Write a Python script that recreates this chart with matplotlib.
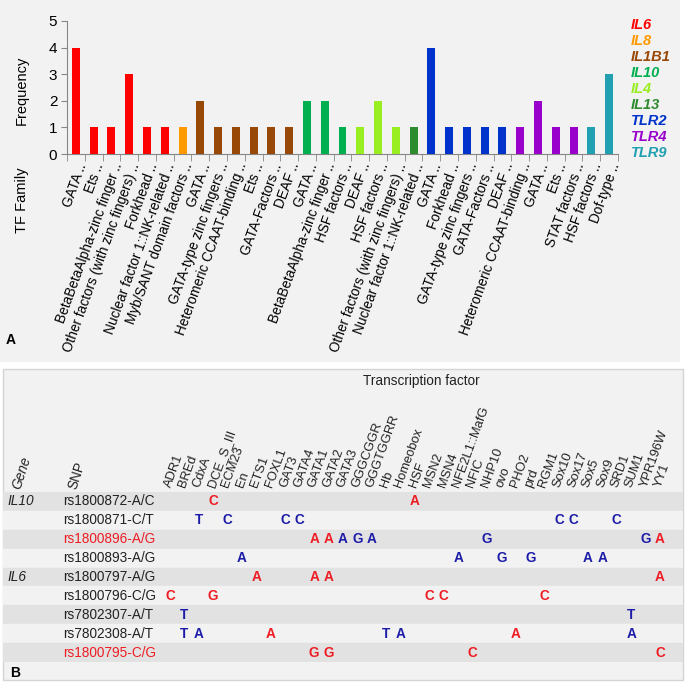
import matplotlib
matplotlib.use("Agg")
import matplotlib.pyplot as plt
from matplotlib.patches import Rectangle
import numpy as np

# ---------------- data: panel A ----------------
tf_families = ["GATA", "Ets", "BetaBetaAlpha-zinc finger", "Other factors (with zinc fingers)",
               "Forkhead", "Nuclear factor 1::NK-related", "Myb/SANT domain factors",
               "GATA", "GATA-type zinc fingers", "Heteromeric CCAAT-binding", "Ets",
               "GATA-Factors", "DEAF", "GATA", "BetaBetaAlpha-zinc finger", "HSF factors",
               "DEAF", "HSF factors", "Other factors (with zinc fingers)",
               "Nuclear factor 1::NK-related", "GATA", "Forkhead", "GATA-type zinc fingers",
               "GATA-Factors", "DEAF", "Heteromeric CCAAT-binding", "GATA", "Ets",
               "STAT factors", "HSF factors", "Dof-type"]
frequency = [4, 1, 1, 3, 1, 1, 1, 2, 1, 1, 1, 1, 1, 2, 2, 1, 1, 2, 1, 1, 4, 1, 1, 1, 1, 1, 2, 1, 1, 1, 3]
bar_gene = (["IL6"] * 6 + ["IL8"] + ["IL1B1"] * 6 + ["IL10"] * 3 + ["IL4"] * 3 + ["IL13"]
            + ["TLR2"] * 5 + ["TLR4"] * 4 + ["TLR9"] * 2)
genes = ["IL6", "IL8", "IL1B1", "IL10", "IL4", "IL13", "TLR2", "TLR4", "TLR9"]
gene_colors = ["#ff0000", "#ff9900", "#984807", "#00b050", "#99ee22", "#2e8b2e",
               "#0033cc", "#9900cc", "#20a0b0"]

# ---------------- data: panel B ----------------
tf_names = ["ADR1", "BREd", "CdxA", "DCE_S_III", "ECM23", "En", "ETS1", "FOXL1", "GAT3",
            "GATA4", "GATA1", "GATA2", "GATA3", "GGGCGGR", "GGGTGGRR", "Hb", "Homeobox",
            "HSF", "MSN2", "MSN4", "NFE2L1::MafG", "NFIC", "NHP10", "ovo", "PHO2", "prd",
            "RGM1", "Sox10", "Sox17", "Sox5", "Sox9", "SRD1", "SUM1", "YPR196W", "YY1"]
snps = ["rs1800872-A/C", "rs1800871-C/T", "rs1800896-A/G", "rs1800893-A/G",
        "rs1800797-A/G", "rs1800796-C/G", "rs7802307-A/T", "rs7802308-A/T", "rs1800795-C/G"]
snp_gene = ["IL10", "", "", "", "IL6", "", "", "", ""]
snp_highlight = [False, False, True, False, False, False, False, False, True]
# (snp row, TF, allele, colour code r=red b=blue)
hits = [
    (0, "DCE_S_III", "C", "r"), (0, "HSF", "A", "r"),
    (1, "CdxA", "T", "b"), (1, "ECM23", "C", "b"), (1, "GAT3", "C", "b"), (1, "GATA4", "C", "b"),
    (1, "Sox10", "C", "b"), (1, "Sox17", "C", "b"), (1, "SRD1", "C", "b"),
    (2, "GATA1", "A", "r"), (2, "GATA2", "A", "r"), (2, "GATA3", "A", "b"), (2, "GGGCGGR", "G", "b"),
    (2, "GGGTGGRR", "A", "b"), (2, "NHP10", "G", "b"), (2, "YPR196W", "G", "b"), (2, "YY1", "A", "r"),
    (3, "En", "A", "b"), (3, "NFE2L1::MafG", "A", "b"), (3, "ovo", "G", "b"), (3, "prd", "G", "b"),
    (3, "Sox5", "A", "b"), (3, "Sox9", "A", "b"),
    (4, "ETS1", "A", "r"), (4, "GATA1", "A", "r"), (4, "GATA2", "A", "r"), (4, "YY1", "A", "r"),
    (5, "ADR1", "C", "r"), (5, "DCE_S_III", "G", "r"), (5, "MSN2", "C", "r"), (5, "MSN4", "C", "r"),
    (5, "RGM1", "C", "r"),
    (6, "BREd", "T", "b"), (6, "SUM1", "T", "b"),
    (7, "BREd", "T", "b"), (7, "CdxA", "A", "b"), (7, "FOXL1", "A", "r"), (7, "Hb", "T", "b"),
    (7, "Homeobox", "A", "b"), (7, "PHO2", "A", "r"), (7, "SUM1", "A", "b"),
    (8, "GATA1", "G", "r"), (8, "GATA2", "G", "r"), (8, "NFIC", "C", "r"), (8, "YY1", "C", "r"),
]
allele_colors = {"r": "#ee1c24", "b": "#1c1ca8"}

# ---------------- figure ----------------
W, H = 685, 689
plt.rcParams["font.family"] = ["Liberation Sans", "DejaVu Sans"]
fig = plt.figure(figsize=(W / 100, H / 100), dpi=100)
fig.patch.set_facecolor("white")


def fx(x):
    return x / W


def fy(y):
    return 1 - y / H


# panel backgrounds
fig.patches.append(Rectangle((fx(0), fy(362)), fx(680), 362 / H, transform=fig.transFigure,
                             facecolor="#f2f2f2", edgecolor="none", zorder=-10))
fig.patches.append(Rectangle((fx(3), fy(680)), fx(680), (680 - 369) / H, transform=fig.transFigure,
                             facecolor="#f2f2f2", edgecolor="#d4d4d4", linewidth=1, zorder=-10))

# ---------------- panel A ----------------
ax = fig.add_axes([fx(67), fy(154), fx(618 - 67), (154 - 21) / H])
ax.set_facecolor("none")
x = np.arange(len(frequency))
cmap = dict(zip(genes, gene_colors))
ax.bar(x, frequency, width=0.45, color=[cmap[g] for g in bar_gene], zorder=3)
ax.set_xlim(-0.5, len(frequency) - 0.5)
ax.set_ylim(0, 5)
ax.set_yticks(range(6))
ax.tick_params(axis="y", labelsize=11, length=4, color="#868686", pad=3)
ax.set_xticks(x)
ax.set_xticklabels([f + " .." for f in tf_families], rotation=70, ha="right",
                   rotation_mode="anchor", fontsize=9.8)
ax.tick_params(axis="x", length=0, pad=5)
ax.set_xticks(np.arange(-0.5, len(frequency)), minor=True)
ax.tick_params(axis="x", which="minor", length=5, color="#868686")
for s in ["top", "right"]:
    ax.spines[s].set_visible(False)
for s in ["left", "bottom"]:
    ax.spines[s].set_color("#868686")
fig.text(fx(22), fy(90), "Frequency", rotation=90, fontsize=10.5, ha="center", va="center")
fig.text(fx(22), fy(200), "TF Family", rotation=90, fontsize=10.5, ha="center", va="center")
fig.text(fx(6), fy(340), "A", fontsize=10, fontweight="bold", ha="left", va="center")

for i, (g, c) in enumerate(zip(genes, gene_colors)):
    fig.text(fx(631), fy(25 + 16 * i), g, color=c, fontsize=10.5, fontweight="bold",
             fontstyle="italic", ha="left", va="center")

# ---------------- panel B ----------------
col0_px, col_step = 170, 14.41
tb_left, tb_right, tb_top, tb_bot = 3, 683, 492, 662
axb = fig.add_axes([fx(tb_left), fy(tb_bot), fx(tb_right - tb_left), (tb_bot - tb_top) / H])
xmin = -(col0_px - tb_left) / col_step
xmax = xmin + (tb_right - tb_left) / col_step
axb.set_xlim(xmin, xmax)
axb.set_ylim(len(snps) - 0.5, -0.5)
axb.axis("off")
for r in range(len(snps)):
    axb.axhspan(r - 0.5, r + 0.5, color="#e2e2e2" if r % 2 == 0 else "#f2f2f2", zorder=0)


def px2col(p):
    return (p - col0_px) / col_step


for r, (snp, g, hl) in enumerate(zip(snps, snp_gene, snp_highlight)):
    axb.text(px2col(63), r, snp, fontsize=9.8, color="#ee1c24" if hl else "#222222",
             ha="left", va="center")
    if g:
        axb.text(px2col(7), r, g, fontsize=9.8, fontstyle="italic", color="#222222",
                 ha="left", va="center")

tf_index = {t: i for i, t in enumerate(tf_names)}
for r, tf, allele, c in hits:
    axb.text(tf_index[tf], r, allele, fontsize=9.8, fontweight="bold",
             color=allele_colors[c], ha="center", va="center")

for i, t in enumerate(tf_names):
    axb.text(i + 0.05, -0.72, t, rotation=70, rotation_mode="anchor", ha="left",
             va="baseline", fontsize=9.3, color="#222222", clip_on=False)

fig.text(fx(20), fy(490), "Gene", rotation=72, rotation_mode="anchor", fontsize=9.8,
         fontstyle="italic", ha="left", va="baseline", color="#222222")
fig.text(fx(76), fy(490), "SNP", rotation=72, rotation_mode="anchor", fontsize=9.8,
         ha="left", va="baseline", color="#222222")
fig.text(fx(421), fy(381), "Transcription factor", fontsize=9.8, ha="center", va="center",
         family=["Liberation Sans Narrow", "Liberation Sans", "DejaVu Sans"], color="#222222")
fig.text(fx(10), fy(673), "B", fontsize=10, fontweight="bold", ha="left", va="center")

fig.savefig("out.png", dpi=100)
